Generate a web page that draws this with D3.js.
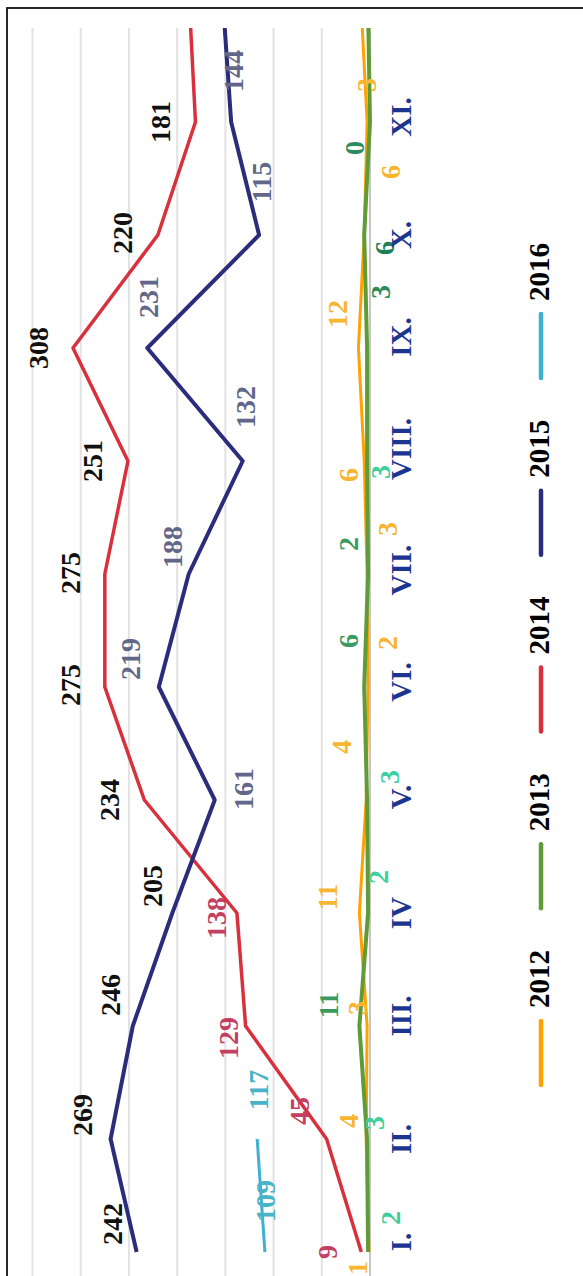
<!DOCTYPE html>
<html><head><meta charset="utf-8">
<script src="https://cdn.jsdelivr.net/npm/d3@7"></script>
<style>html,body{margin:0;padding:0;background:#fff;overflow:hidden}</style>
</head><body>
<svg id="c" width="583" height="1276"></svg>
<script>
// ---------- DATA ----------
const months = ["I.","II.","III.","IV","V.","VI.","VII.","VIII.","IX.","X.","XI.","XII."];
const years = ["2012","2013","2014","2015","2016"];
const values2012 = [1,4,3,11,4,2,3,6,12,6,3,9];
const values2013 = [2,3,11,2,3,6,2,3,3,6,0,2];
const values2014 = [9,45,129,138,234,275,275,251,308,220,181,187];
const values2015 = [242,269,246,205,161,219,188,132,231,115,144,152];
const values2016 = [109,117];
const gridTicks = [50,100,150,200,250,300,350];

// ---------- STYLE / LAYOUT ----------
const W = 1276, H = 583;               // unrotated chart size
const FONT = "'Liberation Serif','Times New Roman',serif";
const lineColors = ["#ffa200","#5f9b37","#d8303c","#2b2d7c","#3fb0d3"];
const lineWidths = [3,4,3.5,4,3];
// label offsets in page pixels [along value axis, along month axis]
const off2012 = [[-12,16],[-18,-18],[-10,-18],[-32,-16],[-25,-53],[19,-44],[20,-45],[-16,14],[-21,-34],[26,-63],[-1,-37]];
const off2013 = [[22,-34],[7,-16],[-31,-21],[10,-36],[22,-23],[-16,-46],[-20,-30],[13,11],[13,-56],[20,13],[-16,26]];
const off2014 = [[-34,0],[-27,-28],[-17,12],[-20,5],[-35,0],[-34,-2],[-34,-1],[-35,0],[-35,0],[-35,-2],[-35,0]];
const off2015 = [[-24,-28],[-28,-24],[-22,-31],[-20,-27],[29,-11],[-28,-28],[-16,-27],[3,-54],[1,-51],[2,-53],[2,-51]];
const off2016 = [[1,-51],[1,-49]];
const TEAL="#3dcf9c", GRN="#3a9a5f", PINK="#c44062", SLATE="#626789", BLK="#111";
const col2012 = Array(11).fill("#f8b530");
const col2013 = [TEAL,TEAL,GRN,TEAL,TEAL,GRN,GRN,TEAL,"#2a8c5c","#1f7f56","#2e8b5e"];
const col2014 = [PINK,PINK,PINK,PINK,BLK,BLK,BLK,BLK,BLK,BLK,BLK];
const col2015 = [BLK,BLK,BLK,BLK,SLATE,SLATE,SLATE,SLATE,SLATE,SLATE,SLATE];
const col2016 = ["#48b3c9","#48b3c9"];
const monthShift = [10,0,10,0,3,5,4,12,11,0,5];

const series = [
  {name:"2012", vals:values2012, off:off2012, col:col2012},
  {name:"2013", vals:values2013, off:off2013, col:col2013},
  {name:"2014", vals:values2014, off:off2014, col:col2014},
  {name:"2015", vals:values2015, off:off2015, col:col2015},
  {name:"2016", vals:values2016, off:off2016, col:col2016}
];

// ---------- SCALES ----------
const x = d3.scalePoint().domain(months).range([24, 24 + 113*11]);
const y = d3.scaleLinear().domain([0,350]).range([370, 32.5]);
const plotRight = 1248;

const svg = d3.select("#c");
const g = svg.append("g").attr("transform", `translate(0,${W}) rotate(-90)`);

g.append("clipPath").attr("id","plotclip")
  .append("rect").attr("x",-30).attr("y",0).attr("width",plotRight+30).attr("height",H);

// border
g.append("rect").attr("x",-30).attr("y",7).attr("width",1268+30).attr("height",700)
  .attr("fill","none").attr("stroke","#111").attr("stroke-width",1.8);

const plot = g.append("g").attr("clip-path","url(#plotclip)");

// gridlines
plot.selectAll("line.grid").data(gridTicks).join("line")
  .attr("x1",-10).attr("x2",plotRight).attr("y1",d=>y(d)).attr("y2",d=>y(d))
  .attr("stroke","#e2e2e2").attr("stroke-width",2);
plot.append("line").attr("x1",-10).attr("x2",plotRight).attr("y1",y(0)).attr("y2",y(0))
  .attr("stroke","#c6c6c6").attr("stroke-width",2);

// lines
const lineGen = d3.line().x((d,i)=>x(months[i])).y(d=>y(d));
series.forEach((s,k)=>{
  plot.append("path").datum(s.vals).attr("d",lineGen)
    .attr("fill","none").attr("stroke",lineColors[k]).attr("stroke-width",lineWidths[k])
    .attr("stroke-linejoin","round");
});

// data labels
series.forEach((s,k)=>{
  s.off.forEach((o,i)=>{
    plot.append("text")
      .attr("x", x(months[i]) - o[1])
      .attr("y", y(s.vals[i]) + o[0])
      .attr("text-anchor","middle").attr("dominant-baseline","central")
      .attr("font-family",FONT).attr("font-weight","bold").attr("font-size",28)
      .attr("fill", s.col[i]).text(s.vals[i]);
  });
});

// month labels
months.slice(0,11).forEach((m,i)=>{
  plot.append("text").attr("x", x(m) + monthShift[i]).attr("y",401)
    .attr("text-anchor","middle").attr("dominant-baseline","central")
    .attr("font-family",FONT).attr("font-weight","bold").attr("font-size",29)
    .attr("fill","#1b3590").text(m);
});

// legend
const legStart = 191, legStep = 176.75, legLen = 64;
years.forEach((yr,k)=>{
  const u0 = legStart + k*legStep;
  g.append("line").attr("x1",u0).attr("x2",u0+legLen).attr("y1",541).attr("y2",541)
    .attr("stroke",lineColors[k]).attr("stroke-width",4.5).attr("stroke-linecap","round");
  g.append("text").attr("x",u0+legLen+13).attr("y",549)
    .attr("font-family",FONT).attr("font-weight","bold").attr("font-size",29)
    .attr("fill","#000").text(yr);
});
</script>
</body></html>
